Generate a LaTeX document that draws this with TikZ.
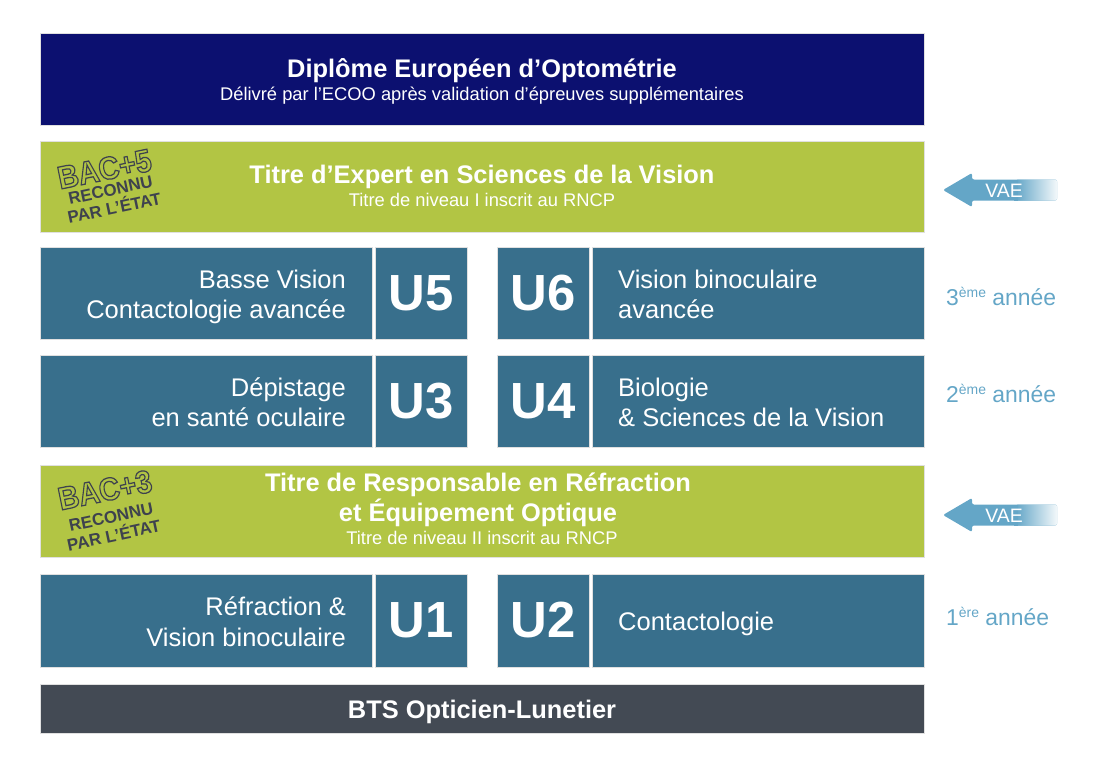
\documentclass[tikz,border=0pt]{standalone}
\usepackage{fontspec}
\setmainfont{Liberation Sans}
\definecolor{navy}{RGB}{12,16,112}
\definecolor{lime}{RGB}{178,197,68}
\definecolor{steel}{RGB}{56,111,140}
\definecolor{slate}{RGB}{67,74,84}
\definecolor{stampc}{RGB}{62,66,78}
\definecolor{sky}{RGB}{100,166,199}
\tikzset{
  band/.style={draw=black!12, line width=0.8bp},
  wt/.style={text=white, inner sep=0pt},
  head/.style={wt, anchor=base, font=\fontsize{25.5}{30}\selectfont\bfseries},
  sub/.style={wt, anchor=base, font=\fontsize{18.4}{21}\selectfont},
  boxtxtR/.style={wt, anchor=base east, font=\fontsize{25.6}{30}\selectfont},
  boxtxtL/.style={wt, anchor=base west, font=\fontsize{25.6}{30}\selectfont},
  unit/.style={wt, anchor=center, font=\fontsize{51}{55}\selectfont\bfseries},
  year/.style={text=sky, inner sep=0pt, anchor=base west, font=\fontsize{23}{26}\selectfont},
  vaetxt/.style={wt, anchor=base, font=\fontsize{19.5}{22}\selectfont},
  bigstamp/.style={text=stampc, inner sep=0pt, rotate=11.5, font=\fontsize{32}{34}\selectfont\bfseries},
  smallstamp/.style={text=stampc, inner sep=0pt, rotate=12, font=\fontsize{17}{18}\selectfont\bfseries},
}
\newcommand{\supx}[1]{\raisebox{7.5bp}{\fontsize{14}{14}\selectfont #1}}
\newcommand{\hollow}[1]{\scalebox{0.9}[1]{\special{pdf:literal direct 1 Tr 1.25 w}#1\special{pdf:literal direct 0 Tr}}}
\begin{document}
\begin{tikzpicture}[x=1bp,y=1bp]
\useasboundingbox (0,0) rectangle (1100,-768);
% bands
\draw[band, fill=navy] (40,-33) rectangle (924,-125);
\draw[band, fill=lime] (40,-141) rectangle (924,-232);
\draw[band, fill=lime] (40,-465) rectangle (924,-557);
\draw[band, fill=slate] (40,-684) rectangle (924,-733);
% unit rows
\foreach \t/\b in {247/339, 355/447, 574/667}{
  \draw[band, fill=steel] (40,-\t) rectangle (372,-\b);
  \draw[band, fill=steel] (375,-\t) rectangle (467,-\b);
  \draw[band, fill=steel] (497,-\t) rectangle (589,-\b);
  \draw[band, fill=steel] (592,-\t) rectangle (924,-\b);
}
% top band
\node[head] (deo) at (482,-78) {Diplôme Européen d’Optométrie};
\node[sub] (deos) at (482,-101) {Délivré par l’ECOO après validation d’épreuves supplémentaires};
% green 1
\node[head] (tesv) at (482,-183) {Titre d’Expert en Sciences de la Vision};
\node[sub] (tesvs) at (482,-206) {Titre de niveau I inscrit au RNCP};
% green 2
\node[head] (trr1) at (478,-491) {Titre de Responsable en Réfraction};
\node[head] (trr2) at (478,-521) {et Équipement Optique};
\node[sub] (trrs) at (482,-544) {Titre de niveau II inscrit au RNCP};
% BTS
\node[head] (bts) at (482,-718.5) {BTS Opticien-Lunetier};
% row 1
\node[boxtxtR] (bv1) at (346,-288) {Basse Vision};
\node[boxtxtR] (bv2) at (346,-318) {Contactologie avancée};
\node[unit] (u5) at (421,-293) {U5};
\node[unit] (u6) at (543,-293) {U6};
\node[boxtxtL] (vb1) at (618,-288) {Vision binoculaire};
\node[boxtxtL] (vb2) at (618,-318) {avancée};
% row 2
\node[boxtxtR] (dp1) at (346,-396) {Dépistage};
\node[boxtxtR] (dp2) at (346,-426.5) {en santé oculaire};
\node[unit] (u3) at (421,-401) {U3};
\node[unit] (u4) at (543,-401) {U4};
\node[boxtxtL] (bio1) at (618,-396) {Biologie};
\node[boxtxtL] (bio2) at (618,-426.5) {\& Sciences de la Vision};
% row 3
\node[boxtxtR] (rf1) at (346,-615.5) {Réfraction \&};
\node[boxtxtR] (rf2) at (346,-646) {Vision binoculaire};
\node[unit] (u1) at (421,-620.5) {U1};
\node[unit] (u2) at (543,-620.5) {U2};
\node[boxtxtL] (ct) at (618,-630) {Contactologie};
% years
\node[year] (y3) at (946,-305) {3\supx{ème} année};
\node[year] (y2) at (946,-402) {2\supx{ème} année};
\node[year] (y1) at (946,-625) {1\supx{ère} année};
% VAE arrows
\foreach \c/\n in {190/vaea, 515/vaeb}{
  \fill[sky, rounded corners=2bp] (943,-\c) -- (972,-\c+17) -- (972,-\c+10.5) -- (1057,-\c+10.5)
     -- (1057,-\c-10.5) -- (972,-\c-10.5) -- (972,-\c-17) -- cycle;
  \shade[left color=sky, right color=sky!8, rounded corners=2bp] (1016,-\c+10.5) rectangle (1057,-\c-10.5);
  \fill[sky] (1014,-\c+10.5) rectangle (1018,-\c-10.5);
  \node[vaetxt] (\n) at (1004,-\c-7.3) {VAE};
}
% stamps
\node[bigstamp] (bac5) at (104.5,-169) {\hollow{BAC+5}};
\node[smallstamp] (rec5) at (110.5,-190) {RECONNU};
\node[smallstamp] (par5) at (114,-206.5) {PAR L’ÉTAT};
\node[bigstamp] (bac3) at (105,-490) {\hollow{BAC+3}};
\node[smallstamp] (rec3) at (111,-517) {RECONNU};
\node[smallstamp] (par3) at (113.5,-534) {PAR L’ÉTAT};
\end{tikzpicture}
\end{document}
